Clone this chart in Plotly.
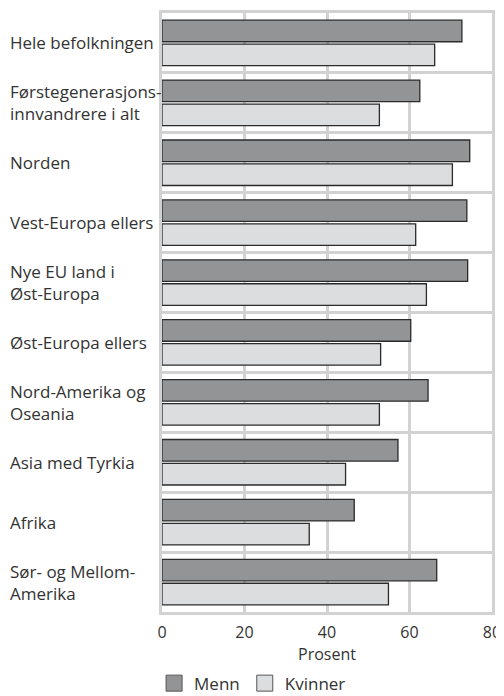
import plotly.graph_objects as go

categories = [
    "Hele befolkningen",
    "Førstegenerasjons-<br>innvandrere i alt",
    "Norden",
    "Vest-Europa ellers",
    "Nye EU land i<br>Øst-Europa",
    "Øst-Europa ellers",
    "Nord-Amerika og<br>Oseania",
    "Asia med Tyrkia",
    "Afrika",
    "Sør- og Mellom-<br>Amerika",
]
menn = [72.7, 62.5, 74.6, 73.9, 74.1, 60.3, 64.5, 57.2, 46.6, 66.6]
kvinner = [66.1, 52.7, 70.4, 61.5, 64.1, 53.0, 52.7, 44.5, 35.7, 54.9]
x_ticks = [0, 20, 40, 60, 80]
x_title = "Prosent"

FONT = "Open Sans"
TXT = "#333333"
GRID = "#d2d2d2"
MENN_C = "#939496"
KVIN_C = "#dcdddf"
EDGE = "#2b2b2b"

fig = go.Figure()
fig.add_trace(go.Bar(y=categories, x=menn, orientation="h", name="Menn",
                     marker=dict(color=MENN_C, line=dict(color=EDGE, width=1.3)),
                     showlegend=False))
fig.add_trace(go.Bar(y=categories, x=kvinner, orientation="h", name="Kvinner",
                     marker=dict(color=KVIN_C, line=dict(color=EDGE, width=1.3)),
                     showlegend=False))
# legend proxies
for nm, c in [("Menn", MENN_C), ("Kvinner", KVIN_C)]:
    fig.add_trace(go.Scatter(x=[None], y=[None], mode="markers", name=nm,
                             marker=dict(symbol="square", size=22, color=c,
                                         line=dict(color="#555555", width=1))))

for cat in categories:
    fig.add_annotation(x=-0.4667, xref="paper", y=cat, yref="y", text=cat,
                       xanchor="left", align="left", showarrow=False,
                       font=dict(family=FONT, size=17, color=TXT))

fig.update_layout(
    width=496, height=688,
    margin=dict(l=154, r=12, t=5, b=84, autoexpand=False),
    paper_bgcolor="white", plot_bgcolor="white",
    barmode="group", bargap=0.2, bargroupgap=0.1,
    font=dict(family=FONT, size=16, color=TXT),
    showlegend=True,
    legend=dict(orientation="h", x=-0.024, xanchor="left", y=-0.1195, yanchor="middle",
                font=dict(family=FONT, size=17, color=TXT), itemwidth=30,
                tracegroupgap=0),
    xaxis=dict(range=[0, 80], tickvals=x_ticks, showgrid=True, gridcolor=GRID,
               gridwidth=2.5, zeroline=False, showline=True, mirror=True,
               linecolor=GRID, linewidth=2.5, ticks="", ticklabelstandoff=4,
               title=dict(text=x_title, standoff=0, font=dict(size=16)),
               tickfont=dict(size=16)),
    yaxis=dict(type="category", autorange="reversed", tickson="boundaries",
               showgrid=True, gridcolor=GRID, gridwidth=2.5, showticklabels=False,
               ticks="", showline=True, mirror=True, linecolor=GRID, linewidth=2.5,
               zeroline=False),
)

fig.write_html("out.html")
